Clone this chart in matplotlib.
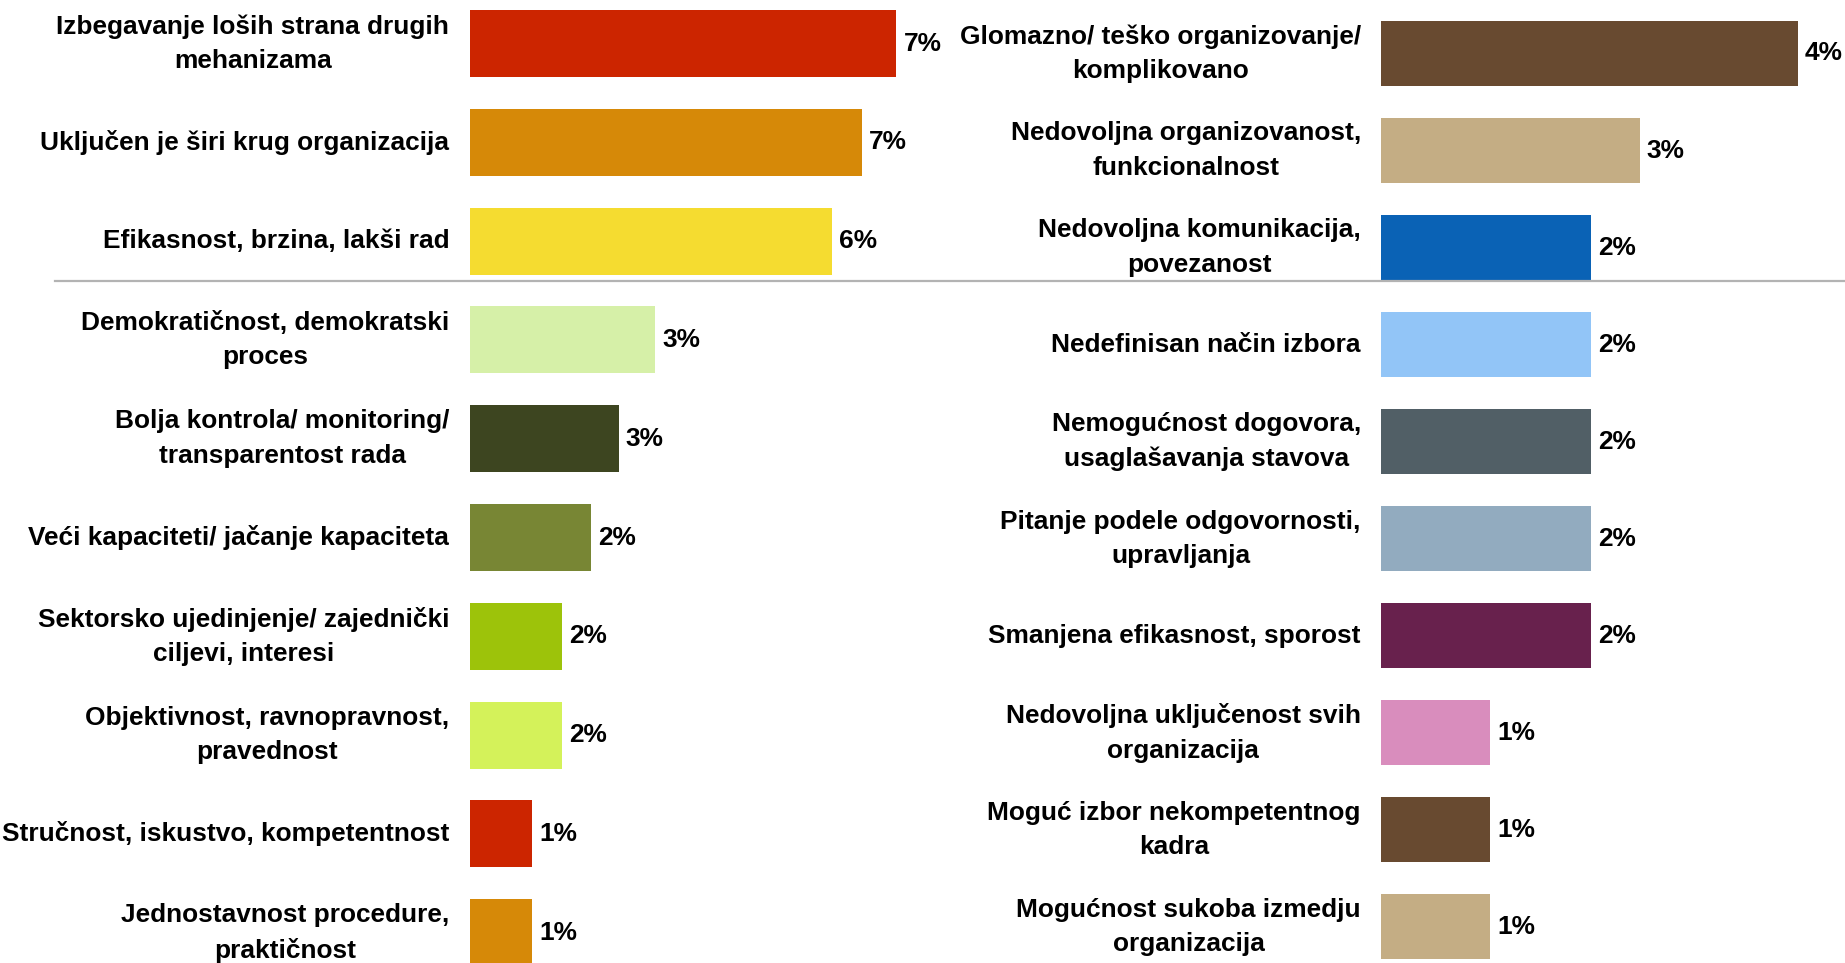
import matplotlib
matplotlib.use("Agg")
import matplotlib.pyplot as plt
from matplotlib.lines import Line2D

plt.rcParams['font.family'] = ['Liberation Sans', 'DejaVu Sans']
plt.rcParams['font.weight'] = 'bold'

left_categories = [
    "Izbegavanje loših strana drugih\nmehanizama",
    "Uključen je širi krug organizacija",
    "Efikasnost, brzina, lakši rad",
    "Demokratičnost, demokratski\nproces",
    "Bolja kontrola/ monitoring/\ntransparentost rada",
    "Veći kapaciteti/ jačanje kapaciteta",
    "Sektorsko ujedinjenje/ zajednički\nciljevi, interesi",
    "Objektivnost, ravnopravnost,\npravednost",
    "Stručnost, iskustvo, kompetentnost",
    "Jednostavnost procedure,\npraktičnost",
]
left_values = [7.2, 6.62, 6.12, 3.13, 2.52, 2.05, 1.56, 1.56, 1.06, 1.06]
left_labels = ["7%", "7%", "6%", "3%", "3%", "2%", "2%", "2%", "1%", "1%"]
left_colors = ['#CC2500', '#D68908', '#F5DC30', '#D6F0A8', '#3D4520',
               '#788634', '#9DC30A', '#D4F25A', '#CC2500', '#D68908']

right_categories = [
    "Glomazno/ teško organizovanje/\nkomplikovano",
    "Nedovoljna organizovanost,\nfunkcionalnost",
    "Nedovoljna komunikacija,\npovezanost",
    "Nedefinisan način izbora",
    "Nemogućnost dogovora,\nusaglašavanja stavova",
    "Pitanje podele odgovornosti,\nupravljanja",
    "Smanjena efikasnost, sporost",
    "Nedovoljna uključenost svih\norganizacija",
    "Moguć izbor nekompetentnog\nkadra",
    "Mogućnost sukoba izmedju\norganizacija",
]
right_values = [4.2, 2.61, 2.12, 2.12, 2.12, 2.12, 2.12, 1.1, 1.1, 1.1]
right_labels = ["4%", "3%", "2%", "2%", "2%", "2%", "2%", "1%", "1%", "1%"]
right_colors = ['#684A30', '#C4AD84', '#0A62B5', '#92C5F7', '#515F66',
                '#92ABBF', '#68214D', '#D98DBD', '#684A30', '#C4AD84']

W, H = 1845, 963
fig = plt.figure(figsize=(W / 100, H / 100), dpi=100)
fig.patch.set_facecolor('white')

FS = 18.9


def panel(x0_px, px_per_unit, xmax, top_center_px, spacing_px, bar_h,
          cats, vals, labs, cols):
    width_px = xmax * px_per_unit
    ax = fig.add_axes([x0_px / W, 0, width_px / W, 1])
    n = len(cats)
    ypos = list(range(n))
    ytop = -top_center_px / spacing_px
    ybot = (H - top_center_px) / spacing_px
    ax.barh(ypos, vals, height=bar_h, color=cols, edgecolor='none')
    ax.set_xlim(0, xmax)
    ax.set_ylim(ybot, ytop)
    ax.axis('off')
    for y, v, c, lab in zip(ypos, vals, cats, labs):
        ax.annotate(c, xy=(0, y), xytext=(-14.5, 0), textcoords='offset points',
                    ha='right', va='center', ma='center', fontsize=FS,
                    fontweight='bold', linespacing=1.55, color='black',
                    annotation_clip=False)
        ax.annotate(lab, xy=(v, y), xytext=(5, 0), textcoords='offset points',
                    ha='left', va='center', fontsize=FS, fontweight='bold',
                    color='black', annotation_clip=False)
    return ax


panel(469.5, 59.3, 8.0, 43.5, 98.8, 0.68,
      left_categories, left_values, left_labels, left_colors)
panel(1381, 99.2, 4.6, 53.5, 97.05, 0.67,
      right_categories, right_values, right_labels, right_colors)

yline = 1 - 281 / H
fig.add_artist(Line2D([55 / W, 1.0], [yline, yline], color='#B3B3B3',
                      linewidth=1.6, transform=fig.transFigure))

fig.savefig('out.png', dpi=100, facecolor='white')
